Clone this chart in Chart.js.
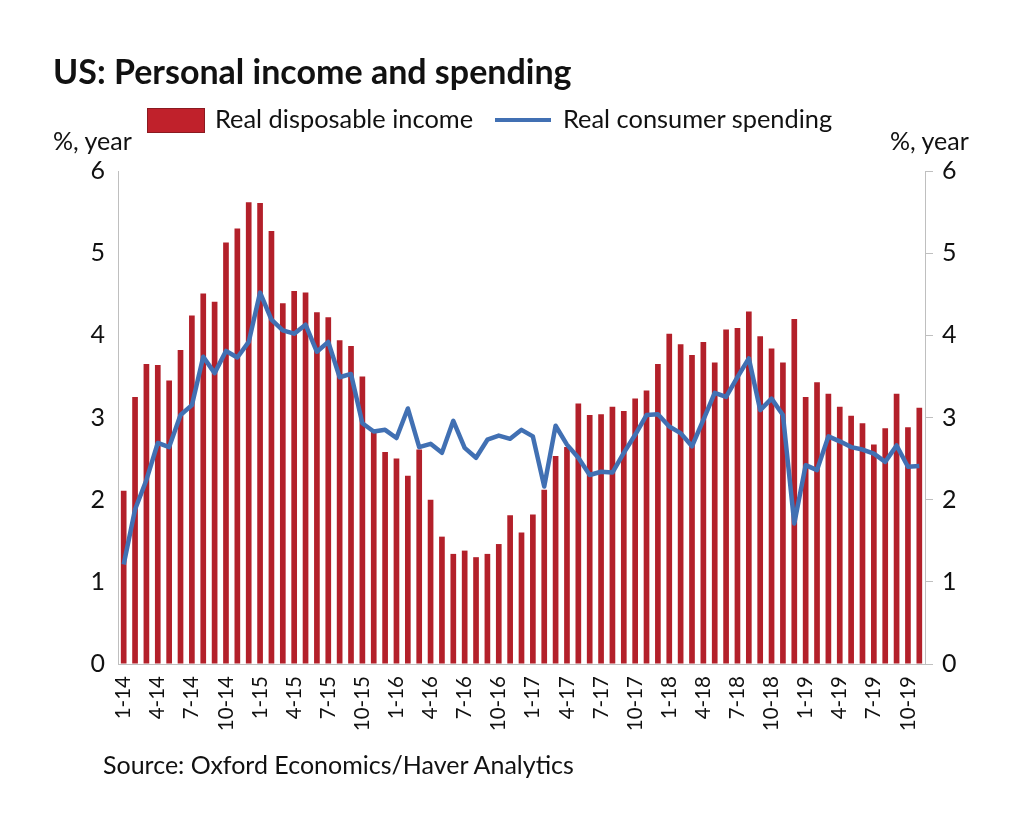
<!DOCTYPE html>
<html>
<head>
<meta charset="utf-8">
<script src="https://cdn.jsdelivr.net/npm/chart.js@4.4.1/dist/chart.umd.min.js"></script>
<style>
  html,body{margin:0;padding:0;background:#fff;}
  #wrap{position:relative;width:1024px;height:834px;overflow:hidden;font-family:Lato,"Open Sans",sans-serif;color:#111;}
  #c{position:absolute;left:0;top:0;}
  .t{position:absolute;white-space:nowrap;line-height:1;}
  #title{left:53px;top:54px;font-size:34px;font-weight:700;}
  #unitL{left:53px;top:128px;font-size:25px;}
  #unitR{left:890px;top:128px;font-size:25px;}
  #src{left:103px;top:752px;font-size:25px;}
  #lgBox{position:absolute;left:147px;top:108px;width:56px;height:23px;background:#c0212b;border:1px solid #8a1a20;}
  #lgTxt1{left:215px;top:106px;font-size:25.4px;}
  #lgLine{position:absolute;left:495px;top:118px;width:56px;height:4px;background:#4170b3;}
  #lgTxt2{left:563px;top:106px;font-size:25.4px;}
</style>
</head>
<body>
<div id="wrap">
  <canvas id="c" width="1024" height="834"></canvas>
  <div class="t" id="title">US: Personal income and spending</div>
  <div id="lgBox"></div>
  <div class="t" id="lgTxt1">Real disposable income</div>
  <div id="lgLine"></div>
  <div class="t" id="lgTxt2">Real consumer spending</div>
  <div class="t" id="unitL">%, year</div>
  <div class="t" id="unitR">%, year</div>
  <div class="t" id="src">Source: Oxford Economics/Haver Analytics</div>
</div>
<script>
const years = ['14','15','16','17','18','19'];
const categories = [];
for (const y of years) { for (let m = 1; m <= 12; m++) { categories.push(m + '-' + y); } }
categories.length = 71; // 1-14 .. 11-19

const incomeValues = [2.11,3.25,3.65,3.64,3.45,3.82,4.24,4.51,4.41,5.13,
  5.30,5.62,5.61,5.27,4.39,4.54,4.52,4.28,4.22,3.94,
  3.87,3.50,2.85,2.58,2.50,2.29,2.61,2.00,1.55,1.34,
  1.38,1.30,1.34,1.46,1.81,1.60,1.82,2.12,2.53,2.64,
  3.17,3.03,3.04,3.13,3.08,3.23,3.33,3.65,4.02,3.89,
  3.76,3.92,3.67,4.07,4.09,4.29,3.99,3.84,3.67,4.20,
  3.25,3.43,3.29,3.13,3.02,2.93,2.67,2.87,3.29,2.88,3.12];

const spendingValues = [1.21,1.88,2.24,2.69,2.64,3.03,3.15,3.74,3.54,3.81,
  3.73,3.92,4.52,4.19,4.06,4.02,4.13,3.80,3.92,3.49,
  3.53,2.93,2.83,2.85,2.75,3.11,2.64,2.68,2.57,2.96,
  2.63,2.51,2.73,2.78,2.74,2.85,2.77,2.16,2.90,2.67,
  2.51,2.30,2.34,2.33,2.57,2.79,3.03,3.04,2.89,2.81,
  2.65,2.97,3.30,3.25,3.49,3.72,3.09,3.23,3.03,1.71,
  2.42,2.36,2.77,2.71,2.64,2.61,2.56,2.46,2.66,2.40,2.41];

const yTicks = [0,1,2,3,4,5,6];

function build(){
  const axisGray = '#bfbfbf';
  const tickFont = {family:'Lato', size:25};
  new Chart(document.getElementById('c'), {
    data: {
      labels: categories,
      datasets: [
        {type:'line', label:'Real consumer spending', data: spendingValues, yAxisID:'yR',
         borderColor:'#4170b3', borderWidth:4.5, pointRadius:0, tension:0, order:1, borderJoinStyle:'round'},
        {type:'bar', label:'Real disposable income', data: incomeValues, yAxisID:'yL',
         backgroundColor:'#b3202a', categoryPercentage:1, barPercentage:0.5, order:2}
      ]
    },
    options: {
      responsive:false, animation:false, devicePixelRatio:1,
      layout:{padding:{top:171,left:0,right:0,bottom:0}},
      plugins:{legend:{display:false}, title:{display:false}, tooltip:{enabled:false}},
      scales:{
        x:{
          offset:true,
          grid:{display:true, drawOnChartArea:false, drawTicks:false},
          border:{display:true, color:axisGray, width:1},
          ticks:{autoSkip:false, minRotation:90, maxRotation:90, padding:12, color:'#111',
                 font:{family:'Lato', size:20.5},
                 callback:(v,i)=> (i % 3 === 0 ? categories[i] : '')},
          afterFit: s => { s.height = 170; }
        },
        yL:{
          position:'left', min:0, max:6,
          afterBuildTicks: s => { s.ticks = yTicks.map(v=>({value:v})); },
          grid:{drawOnChartArea:false, drawTicks:false},
          border:{display:true, color:axisGray, width:1},
          ticks:{padding:13, color:'#111', font:tickFont},
          afterFit: s => { s.width = 118; }
        },
        yR:{
          position:'right', min:0, max:6,
          afterBuildTicks: s => { s.ticks = yTicks.map(v=>({value:v})); },
          grid:{drawOnChartArea:false, drawTicks:true, tickLength:8, color:axisGray},
          border:{display:true, color:axisGray, width:1},
          ticks:{padding:9, color:'#111', font:tickFont},
          afterFit: s => { s.width = 99; }
        }
      }
    }
  });
}
if (document.fonts && document.fonts.load) {
  Promise.all([document.fonts.load('25px Lato'), document.fonts.load('bold 34px Lato')]).then(build, build);
} else { build(); }
</script>
</body>
</html>
